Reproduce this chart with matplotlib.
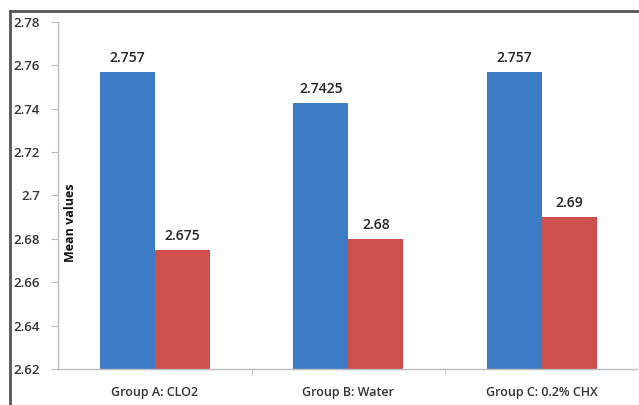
import matplotlib.pyplot as plt
import numpy as np
from matplotlib.lines import Line2D

groups = ['Group A: CLO2', 'Group B: Water', 'Group C: 0.2% CHX']
blue_vals = [2.757, 2.7425, 2.757]
red_vals = [2.675, 2.68, 2.69]
blue_labels = ['2.757', '2.7425', '2.757']
red_labels = ['2.675', '2.68', '2.69']
yticks = [2.62, 2.64, 2.66, 2.68, 2.7, 2.72, 2.74, 2.76, 2.78]
ytick_labels = ['2.62', '2.64', '2.66', '2.68', '2.7', '2.72', '2.74', '2.76', '2.78']

plt.rcParams['font.family'] = ['Open Sans', 'DejaVu Sans']

fig = plt.figure(figsize=(6.39, 4.05), dpi=100)
ax = fig.add_axes([0.0908, 0.0889, 0.906, 0.8568])

x = np.arange(len(groups))
w = 0.284
blue_c = '#3d7cc4'
red_c = '#cf4f4f'
ax.bar(x - w, blue_vals, w, align='edge', color=blue_c)
ax.bar(x, red_vals, w, align='edge', color=red_c)

for xi, v, s in zip(x, blue_vals, blue_labels):
    ax.annotate(s, (xi - w / 2, v), xytext=(0, 5), textcoords='offset points',
                ha='center', va='bottom', fontsize=10, fontweight='semibold', color='#222222')
for xi, v, s in zip(x, red_vals, red_labels):
    ax.annotate(s, (xi + w / 2, v), xytext=(0, 5), textcoords='offset points',
                ha='center', va='bottom', fontsize=10, fontweight='semibold', color='#222222')

ax.set_xlim(-0.5, 2.49)
ax.set_ylim(2.62, 2.78)
ax.set_yticks(yticks)
ax.set_yticklabels(ytick_labels, fontsize=9.5, fontweight='semibold', color='#333333')
ax.set_xticks(x)
ax.set_xticklabels(groups, fontsize=9, fontweight='semibold', color='#333333')
ax.set_xticks([0.5, 1.5], minor=True)
ax.tick_params(axis='x', which='major', length=0, pad=12)
ax.tick_params(axis='x', which='minor', length=4, color='#bbbbbb', direction='out')
ax.tick_params(axis='y', length=5, color='#bbbbbb', direction='out', pad=8)

for side in ['top', 'right']:
    ax.spines[side].set_visible(False)
for side in ['left', 'bottom']:
    ax.spines[side].set_color('#bbbbbb')
    ax.spines[side].set_linewidth(1.0)

fig.text(71 / 639, 1 - 223 / 405, 'Mean values', rotation=90, ha='center', va='center',
         fontsize=9, fontweight='bold', color='#111111')

# outer frame: only top and left edges are visible in the crop
fx = 9.5 / 639
fy = 1 - 10.5 / 405
fig.add_artist(Line2D([fx, 1.01], [fy, fy], transform=fig.transFigure,
                      color='#555555', linewidth=2))
fig.add_artist(Line2D([fx, fx], [-0.01, fy], transform=fig.transFigure,
                      color='#555555', linewidth=2))

fig.savefig('out.png', dpi=100)
